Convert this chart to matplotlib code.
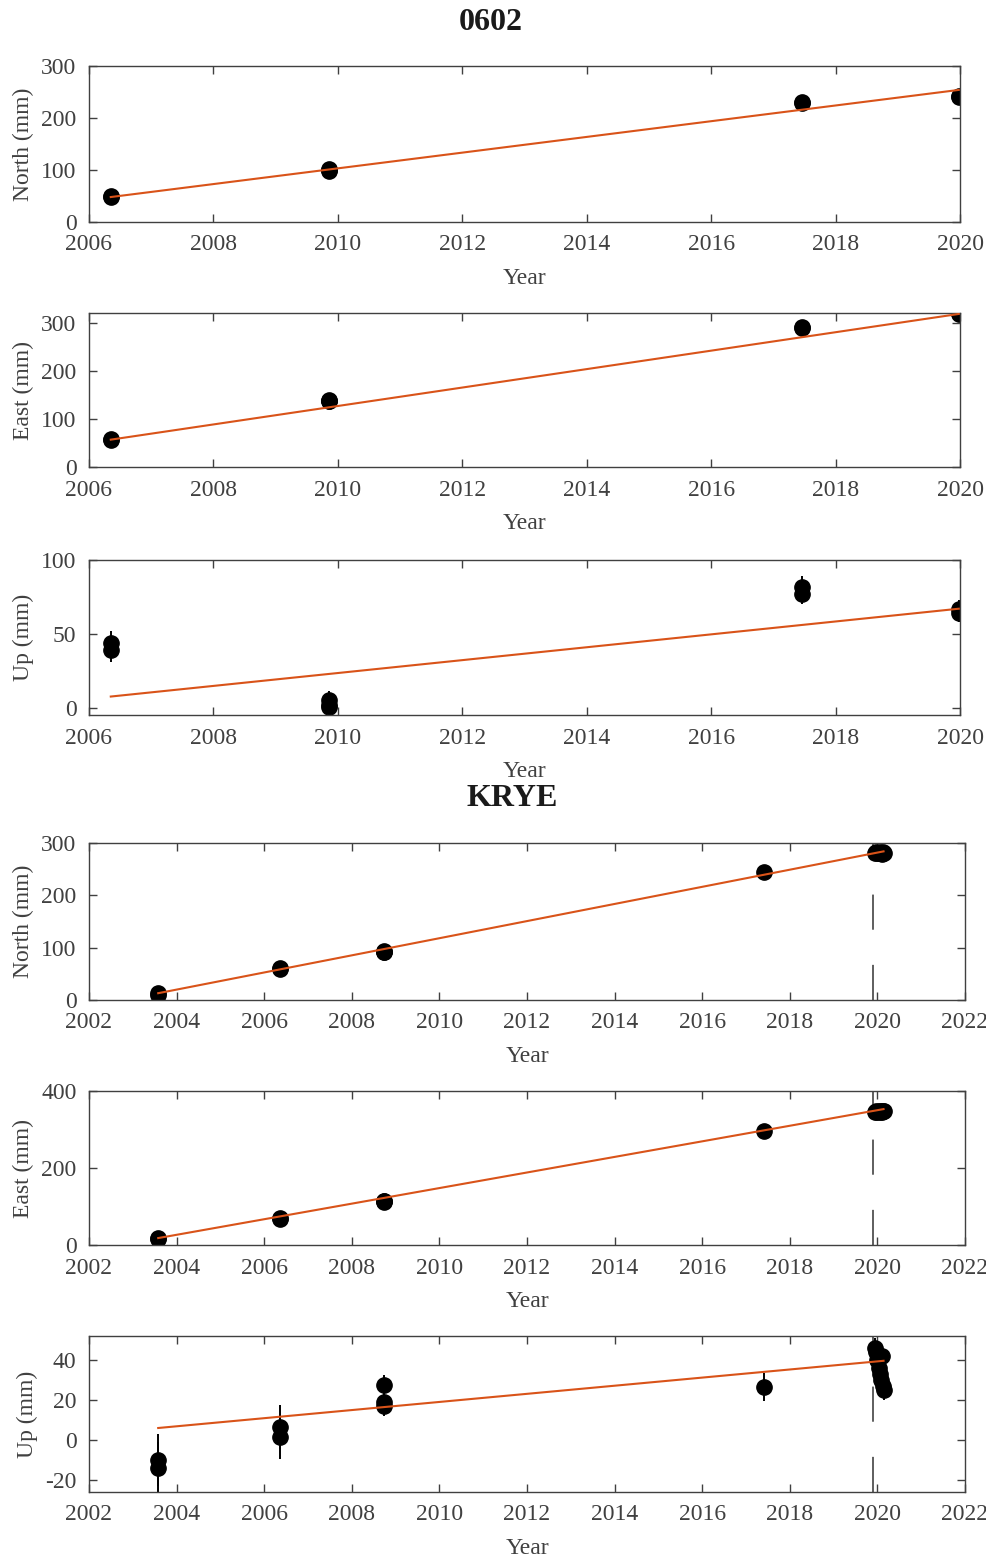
import numpy as np
import matplotlib
matplotlib.use("Agg")
import matplotlib.pyplot as plt

# ---------------- data ----------------
# Station 0602
t_0602 = [2006.35, 2006.35, 2009.85, 2009.85, 2009.85, 2017.46, 2017.46, 2019.98, 2019.98]
north_0602 = [48, 50, 99, 101, 100, 229, 231, 241, 243]
east_0602 = [56, 58, 137, 139, 138, 289, 291, 318, 321]
up_0602 = [44, 39, 5, 2, 0.5, 82, 77, 67, 64]
north_err_0602 = [3, 3, 3, 3, 3, 3, 3, 3, 3]
east_err_0602 = [3, 3, 3, 3, 3, 3, 3, 3, 3]
up_err_0602 = [8, 8, 6, 6, 6, 7, 7, 6, 6]
fit_t_0602 = [2006.35, 2019.98]
fit_north_0602 = [48, 254]
fit_east_0602 = [57, 319]
fit_up_0602 = [7.5, 67]

# Station KRYE
t_krye = [2003.58, 2003.58, 2006.35, 2006.35, 2008.74, 2008.74, 2008.74, 2017.40,
          2019.94, 2019.97, 2020.00, 2020.03, 2020.06, 2020.09, 2020.12, 2020.15, 2020.10]
north_krye = [13, 9, 59, 61, 92, 94, 91, 245,
              281, 282, 280, 281, 283, 280, 282, 281, 279]
east_krye = [15, 17, 68, 70, 113, 115, 112, 296,
             346, 347, 345, 348, 346, 347, 349, 347, 346]
up_krye = [-10, -14, 6.5, 1.5, 27.5, 19, 17, 26.5,
           46, 44, 40, 36, 33, 30, 27, 25, 42]
north_err_krye = [4, 4, 4, 4, 4, 4, 4, 4, 4, 4, 4, 4, 4, 4, 4, 4, 4]
east_err_krye = [4, 4, 4, 4, 4, 4, 4, 4, 4, 4, 4, 4, 4, 4, 4, 4, 4]
up_err_krye = [13, 13, 11, 11, 5, 5, 5, 7, 5, 5, 5, 5, 5, 5, 5, 5, 5]
fit_t_krye = [2003.58, 2020.14]
fit_north_krye = [13, 284]
fit_east_krye = [18, 353]
fit_up_krye = [6, 39.6]
event_krye = 2019.9

# ---------------- style ----------------
plt.rcParams['font.family'] = ['Liberation Serif', 'DejaVu Serif']
plt.rcParams['axes.unicode_minus'] = False
GRAY = '#404040'
FIT = '#D95319'

W, H = 986, 1558
fig = plt.figure(figsize=(W / 100, H / 100), dpi=100)


def add_ax(left, right, top, bottom):
    return fig.add_axes([left / W, 1 - bottom / H, (right - left) / W, (bottom - top) / H])


def style(ax, xlim, xticks, ylim, yticks, ylabel):
    ax.set_xlim(*xlim)
    ax.set_ylim(*ylim)
    ax.set_xticks(xticks)
    ax.set_yticks(yticks)
    ax.tick_params(direction='in', top=True, right=True, length=6, width=1,
                   colors=GRAY, labelsize=17, labelcolor=GRAY)
    ax.tick_params(axis='x', pad=9)
    ax.tick_params(axis='y', pad=9)
    for s in ax.spines.values():
        s.set_color(GRAY)
        s.set_linewidth(1)
    ax.set_xlabel('Year', fontsize=17, color=GRAY, labelpad=9)
    ax.set_ylabel(ylabel, fontsize=17, color=GRAY, labelpad=5)


def panel(ax, t, y, yerr, ft, fy, event=None):
    if event is not None:
        lo, hi = ax.get_ylim()
        ax.plot([event, event], [lo, hi], color='#333333', lw=1.1,
                linestyle=(0, (23, 23)), zorder=1)
    ax.errorbar(t, y, yerr=yerr, fmt='o', color='k', ecolor='k', elinewidth=1.4,
                capsize=0, markersize=11, markerfacecolor='k', zorder=2)
    ax.plot(ft, fy, color=FIT, lw=1.5, zorder=3)


# 0602
x1 = (2006, 2020)
xt1 = np.arange(2006, 2021, 2)
ax1 = add_ax(89, 960, 66, 222)
style(ax1, x1, xt1, (0, 300), [0, 100, 200, 300], 'North (mm)')
panel(ax1, t_0602, north_0602, north_err_0602, fit_t_0602, fit_north_0602)

ax2 = add_ax(89, 960, 313, 467)
style(ax2, x1, xt1, (0, 321), [0, 100, 200, 300], 'East (mm)')
panel(ax2, t_0602, east_0602, east_err_0602, fit_t_0602, fit_east_0602)

ax3 = add_ax(89, 960, 560, 715)
style(ax3, x1, xt1, (-5, 100), [0, 50, 100], 'Up (mm)')
panel(ax3, t_0602, up_0602, up_err_0602, fit_t_0602, fit_up_0602)

# KRYE
x2 = (2002, 2022)
xt2 = np.arange(2002, 2023, 2)
ax4 = add_ax(89, 965, 843, 1000)
style(ax4, x2, xt2, (0, 300), [0, 100, 200, 300], 'North (mm)')
panel(ax4, t_krye, north_krye, north_err_krye, fit_t_krye, fit_north_krye, event_krye)

ax5 = add_ax(89, 965, 1091, 1245)
style(ax5, x2, xt2, (0, 400), [0, 200, 400], 'East (mm)')
panel(ax5, t_krye, east_krye, east_err_krye, fit_t_krye, fit_east_krye, event_krye)

ax6 = add_ax(89, 965, 1336, 1492)
style(ax6, x2, xt2, (-26, 52), [-20, 0, 20, 40], 'Up (mm)')
panel(ax6, t_krye, up_krye, up_err_krye, fit_t_krye, fit_up_krye, event_krye)

fig.text(491 / W, 1 - 22 / H, '0602', ha='center', va='center', fontsize=23,
         fontweight='bold', color='#1a1a1a')
fig.text(512 / W, 1 - 798 / H, 'KRYE', ha='center', va='center', fontsize=23,
         fontweight='bold', color='#1a1a1a')

fig.savefig('out.png', dpi=100)
